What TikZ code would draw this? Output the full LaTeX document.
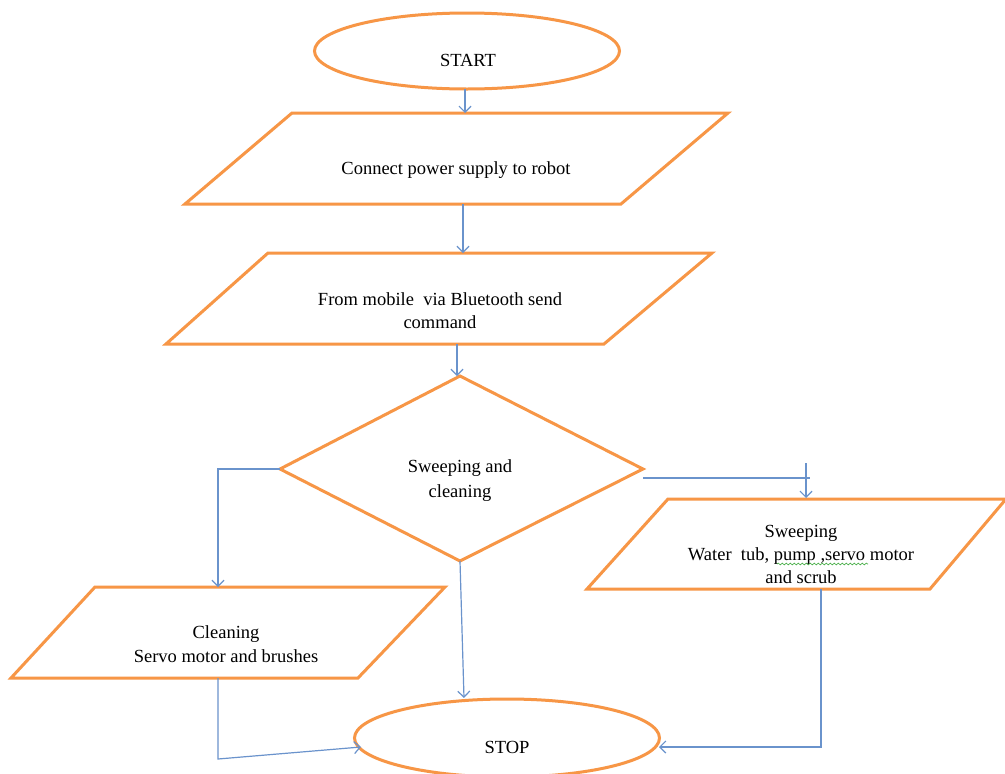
\documentclass[tikz,border=0pt]{standalone}
\usepackage{fontspec}
\setmainfont{Liberation Serif}
\usetikzlibrary{shapes.geometric,arrows.meta,decorations.pathmorphing}
\definecolor{shapeorange}{HTML}{F79646}
\definecolor{lineblue}{HTML}{6A93CC}
\definecolor{squiggle}{HTML}{4CB04C}
\begin{document}
\begin{tikzpicture}[x=1pt,y=-1pt,
  shp/.style={draw=shapeorange,line width=3pt,line join=miter},
  conn/.style={draw=lineblue,line width=1.2pt},
  arr/.style={conn,-{Straight Barb[length=6pt,width=12pt]}},
  lbl/.style={font=\fontsize{18.5}{23}\selectfont,align=center,inner sep=0pt}]
\useasboundingbox (0,0) rectangle (1005,774);
\fill[white] (0,0) rectangle (1005,774);

% terminals
\node[shp,ellipse,minimum width=305pt,minimum height=76pt,inner sep=0pt] (start) at (467,51) {};
\node[lbl] (startlbl) at (468,60) {START};
\node[shp,ellipse,minimum width=305pt,minimum height=78pt,inner sep=0pt] (stop) at (507,738) {};
\node[lbl] (stoplbl) at (507,747) {STOP};

% parallelogram 1
\coordinate (p1tl) at (292,113); \coordinate (p1tr) at (728,113);
\coordinate (p1br) at (621,204); \coordinate (p1bl) at (185,204);
\draw[shp] (p1tl) -- (p1tr) -- (p1br) -- (p1bl) -- cycle;
\node[lbl] (p1) at (456,170) {Connect power supply to robot};

% parallelogram 2
\coordinate (p2tl) at (268,253); \coordinate (p2tr) at (712,253);
\coordinate (p2br) at (604,344); \coordinate (p2bl) at (166,344);
\draw[shp] (p2tl) -- (p2tr) -- (p2br) -- (p2bl) -- cycle;
\node[lbl] (p2) at (440,311) {From mobile\ \ via Bluetooth send\\command};

% decision
\coordinate (dt) at (460,376); \coordinate (dr) at (643,469);
\coordinate (db) at (460,561); \coordinate (dl) at (280,469);
\draw[shp] (dt) -- (dr) -- (db) -- (dl) -- cycle;
\node[lbl,font=\fontsize{18.5}{25}\selectfont] (dec) at (460,481) {Sweeping and\\cleaning};

% parallelogram 3 (left)
\coordinate (p3tl) at (95,587); \coordinate (p3tr) at (445,587);
\coordinate (p3br) at (358,678); \coordinate (p3bl) at (11,678);
\draw[shp] (p3tl) -- (p3tr) -- (p3br) -- (p3bl) -- cycle;
\node[lbl,font=\fontsize{18.5}{24}\selectfont] (p3) at (226,644) {Cleaning\\Servo motor and brushes};

% parallelogram 4 (right)
\coordinate (p4tl) at (668,499); \coordinate (p4tr) at (1006,499);
\coordinate (p4br) at (930,589); \coordinate (p4bl) at (587,589);
\draw[shp] (p4tl) -- (p4tr) -- (p4br) -- (p4bl) -- cycle;
\node[lbl] (p4) at (801,554) {Sweeping\\Water\ \ tub, pump ,servo motor\\and scrub};
\draw[squiggle,line width=0.7pt,decorate,decoration={snake,amplitude=0.9pt,segment length=4pt}] (777,564) -- (868,564);

% connectors
\coordinate (a1s) at (465,89); \coordinate (a1e) at (465,113);
\draw[arr] (a1s) -- (a1e);
\coordinate (a2s) at (463,204); \coordinate (a2e) at (463,253);
\draw[arr] (a2s) -- (a2e);
\coordinate (a3s) at (457,344); \coordinate (a3e) at (457,376);
\draw[arr] (a3s) -- (a3e);

\coordinate (lb1) at (218,469); \coordinate (lb2) at (218,587);
\draw[arr] (dl) -- (lb1) -- (lb2);

\coordinate (rb0) at (643,478); \coordinate (rb1) at (810,478);
\coordinate (rb2) at (806,463); \coordinate (rb3) at (806,498);
\draw[conn] (rb0) -- (rb1);
\draw[arr] (rb2) -- (rb3);

\coordinate (mid) at (464,698);
\draw[arr] (db) -- (mid);

\coordinate (l1) at (218,678); \coordinate (l2) at (218,759); \coordinate (l3) at (361,747);
\draw[arr] (l1) -- (l2) -- (l3);

\coordinate (r1) at (821,589); \coordinate (r2) at (821,747); \coordinate (r3) at (659,747);
\draw[arr] (r1) -- (r2) -- (r3);
\end{tikzpicture}
\end{document}
